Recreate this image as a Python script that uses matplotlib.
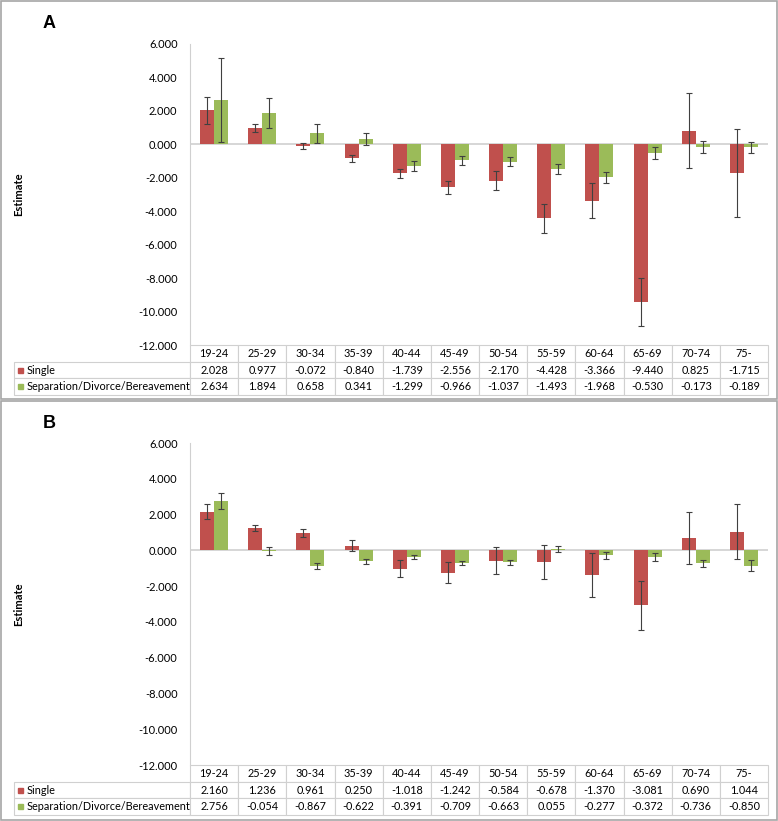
import numpy as np
import matplotlib
matplotlib.use("Agg")
import matplotlib.pyplot as plt
from matplotlib.table import Table
from matplotlib.patches import Rectangle

cats = ['19-24', '25-29', '30-34', '35-39', '40-44', '45-49',
        '50-54', '55-59', '60-64', '65-69', '70-74', '75-']
series_names = ['Single', 'Separation/Divorce/Bereavement']

# panel A
a_single = [2.028, 0.977, -0.072, -0.840, -1.739, -2.556, -2.170, -4.428, -3.366, -9.440, 0.825, -1.715]
a_sep = [2.634, 1.894, 0.658, 0.341, -1.299, -0.966, -1.037, -1.493, -1.968, -0.530, -0.173, -0.189]
a_single_err = [0.80, 0.22, 0.18, 0.22, 0.28, 0.39, 0.56, 0.85, 1.06, 1.43, 2.24, 2.65]
a_sep_err = [2.50, 0.90, 0.57, 0.36, 0.32, 0.28, 0.27, 0.31, 0.33, 0.35, 0.37, 0.34]

# panel B
b_single = [2.160, 1.236, 0.961, 0.250, -1.018, -1.242, -0.584, -0.678, -1.370, -3.081, 0.690, 1.044]
b_sep = [2.756, -0.054, -0.867, -0.622, -0.391, -0.709, -0.663, 0.055, -0.277, -0.372, -0.736, -0.850]
b_single_err = [0.42, 0.18, 0.24, 0.30, 0.45, 0.60, 0.75, 0.95, 1.22, 1.35, 1.44, 1.52]
b_sep_err = [0.45, 0.22, 0.16, 0.13, 0.11, 0.13, 0.14, 0.16, 0.18, 0.20, 0.21, 0.31]

yticks = [6, 4, 2, 0, -2, -4, -6, -8, -10, -12]

RED = '#c0504d'
GREEN = '#9bbb59'
GRID = '#d0d0d0'
FONT = 'Lato'

plt.rcParams['font.family'] = [FONT, 'DejaVu Sans']

W, H = 778, 821
fig = plt.figure(figsize=(W / 100, H / 100), dpi=100)


def fx(px):
    return px / W


def fy(py):
    return 1 - py / H


def draw_panel(letter, box_top, box_bot, ax_top, ax_bot, single, sep, single_err, sep_err):
    # panel frame
    fig.add_artist(Rectangle((fx(1), fy(box_bot)), fx(776), (box_bot - box_top) / H,
                             transform=fig.transFigure, fill=False,
                             edgecolor='#a6a6a6', lw=1.2))
    fig.text(fx(43), fy(box_top + 22), letter, fontsize=13, fontweight='bold',
             family='Liberation Sans', ha='left', va='center')
    fig.text(fx(19), fy((ax_top + ax_bot) / 2), 'Estimate', rotation=90,
             fontsize=8, fontweight='bold', ha='center', va='center')

    ax = fig.add_axes([fx(190), fy(ax_bot), fx(768 - 190), (ax_bot - ax_top) / H])
    x = np.arange(len(cats))
    w = 0.29
    ekw = dict(ecolor='#404040', elinewidth=0.8, capsize=2, capthick=0.8)
    ax.bar(x - w / 2, single, w, color=RED, yerr=single_err, error_kw=ekw, zorder=2)
    ax.bar(x + w / 2, sep, w, color=GREEN, yerr=sep_err, error_kw=ekw, zorder=2)
    ax.axhline(0, color=GRID, lw=1.2, zorder=1)
    ax.set_xlim(-0.5, len(cats) - 0.5)
    ax.set_ylim(-12, 6)
    ax.set_yticks(yticks)
    ax.set_yticklabels(['%.3f' % v for v in yticks])
    ax.tick_params(axis='y', length=0, pad=9, labelsize=8)
    ax.set_xticks([])
    for s in ['top', 'right', 'bottom']:
        ax.spines[s].set_visible(False)
    ax.spines['left'].set_color(GRID)

    # data table below the plot
    row_h = 16.7
    t_top = ax_bot
    t_bot = ax_bot + 3 * row_h
    t_w = 768 - 14
    t_h = t_bot - t_top
    axt = fig.add_axes([fx(14), fy(t_bot), fx(t_w), t_h / H])
    axt.set_axis_off()
    tab = Table(axt, bbox=[0, 0, 1, 1])
    lab_w = 176.0
    col_w = (768 - 190) / len(cats)
    c = tab.add_cell(0, 0, lab_w, 1, text='')
    c.visible_edges = ''
    for j, cat in enumerate(cats):
        tab.add_cell(0, j + 1, col_w, 1, text=cat, loc='center')
    rows = [single, sep]
    for i, vals in enumerate(rows):
        tab.add_cell(i + 1, 0, lab_w, 1, text='')
        for j, v in enumerate(vals):
            tab.add_cell(i + 1, j + 1, col_w, 1, text='%.3f' % v, loc='center')
    for cell in tab.get_celld().values():
        cell.set_edgecolor(GRID)
        cell.set_linewidth(0.8)
        cell.get_text().set_fontsize(7.8)
    tab.auto_set_font_size(False)
    axt.add_table(tab)
    sq = 5.0
    for i, (name, col) in enumerate(zip(series_names, [RED, GREEN])):
        yc = 1 - (i + 1.5) / 3
        axt.add_patch(Rectangle((3.5 / t_w, yc - sq / 2 / t_h), sq / t_w, sq / t_h,
                                color=col, transform=axt.transAxes, clip_on=False))
        axt.text(13 / t_w, yc, name, fontsize=7.8, ha='left', va='center',
                 transform=axt.transAxes)


draw_panel('A', 1, 399, 44, 345, a_single, a_sep, a_single_err, a_sep_err)
draw_panel('B', 401, 820, 443, 765, b_single, b_sep, b_single_err, b_sep_err)

fig.savefig('out.png', dpi=100)
